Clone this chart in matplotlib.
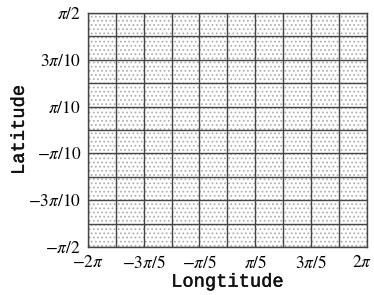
import numpy as np
import matplotlib
matplotlib.use("Agg")
import matplotlib.pyplot as plt
import matplotlib.patheffects as pe
from matplotlib.patches import Rectangle
from matplotlib.transforms import ScaledTranslation

# tick labels as printed in the figure
lon_labels = [r"$-2\pi$", r"$-3\pi/5$", r"$-\pi/5$", r"$\pi/5$", r"$3\pi/5$", r"$2\pi$"]
lat_labels = [r"$-\pi/2$", r"$-3\pi/10$", r"$-\pi/10$", r"$\pi/10$", r"$3\pi/10$", r"$\pi/2$"]
n_lon_cells = 10
n_lat_cells = 10

plt.rcParams['font.family'] = ['Liberation Serif', 'DejaVu Serif']
plt.rcParams['mathtext.fontset'] = 'stix'
plt.rcParams['hatch.color'] = '#b0b0b0'
plt.rcParams['hatch.linewidth'] = 0.8

lon_min, lon_max = -2 * np.pi, 2 * np.pi
lat_min, lat_max = -np.pi / 2, np.pi / 2
lon_grid = np.linspace(lon_min, lon_max, n_lon_cells + 1)
lat_grid = np.linspace(lat_min, lat_max, n_lat_cells + 1)

fig = plt.figure(figsize=(3.74, 2.95), dpi=100)
ax = fig.add_axes([0.235, 0.163, 0.746, 0.793])
ax.set_xlim(lon_min, lon_max)
ax.set_ylim(lat_min, lat_max)

# dotted background
ax.add_patch(Rectangle((lon_min, lat_min), lon_max - lon_min, lat_max - lat_min,
                       facecolor='white', edgecolor='#b0b0b0', hatch='....', lw=0, zorder=0))

for x in lon_grid:
    ax.axvline(x, color='#454545', lw=1.0, zorder=2)
for y in lat_grid:
    ax.axhline(y, color='#454545', lw=1.0, zorder=2)

for s in ax.spines.values():
    s.set_color('#454545')
    s.set_linewidth(1.0)

ax.set_xticks(lon_grid[::2])
ax.set_xticklabels(lon_labels)
ax.set_yticks(lat_grid[::2])
ax.set_yticklabels(lat_labels)
ax.tick_params(axis='x', length=0, pad=6, labelsize=12.5)
ax.tick_params(axis='y', length=0, pad=5, labelsize=12.5)

# keep the last longitude label inside the figure
last = ax.get_xticklabels()[-1]
last.set_transform(last.get_transform() + ScaledTranslation(-0.05, 0, fig.dpi_scale_trans))

thicker = [pe.withStroke(linewidth=0.3, foreground='#111111')]
ax.set_xlabel("Longtitude", family=['Liberation Mono'], fontsize=13.5, labelpad=1,
              color='#111111', path_effects=thicker)
ax.set_ylabel("Latitude", family=['Liberation Mono'], fontsize=13.5, labelpad=0,
              color='#111111', path_effects=thicker)

fig.savefig("out.png", dpi=100)
